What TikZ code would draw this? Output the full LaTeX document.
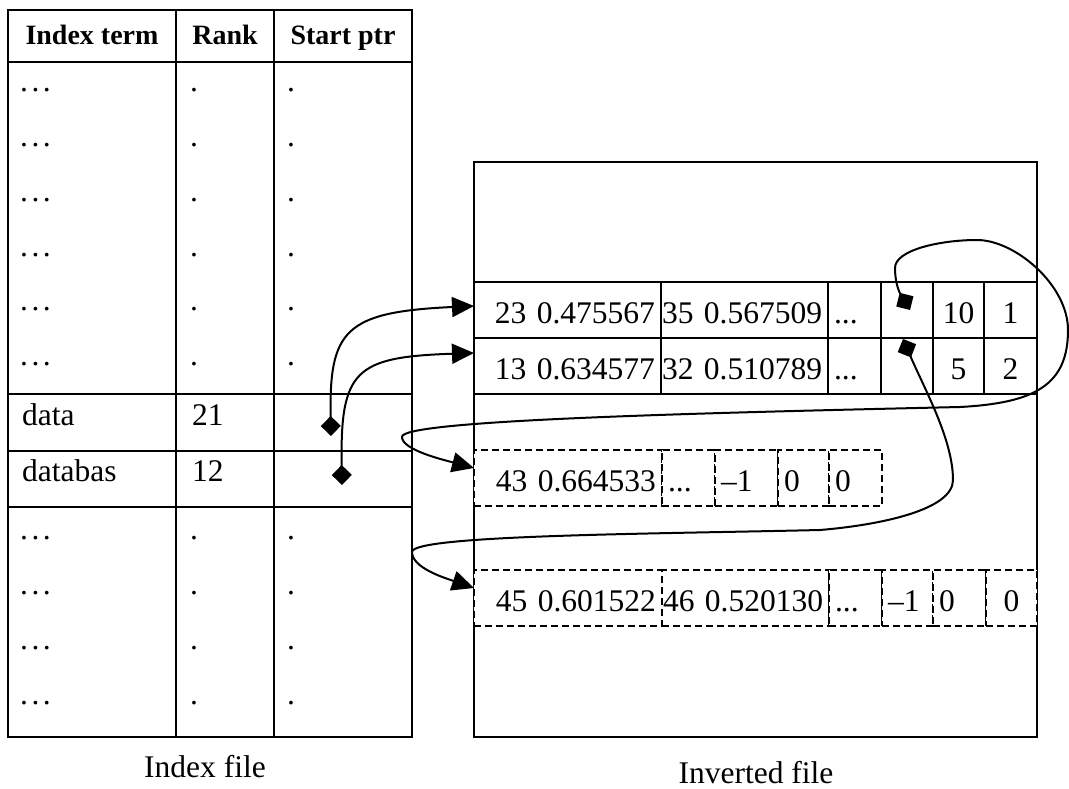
\documentclass[tikz,border=0pt]{standalone}
\usepackage{fontspec}
\setmainfont{Liberation Serif}
\usetikzlibrary{arrows.meta, positioning}

\begin{document}
\begin{tikzpicture}[
  x=1pt, y=-1pt,
  txt/.style={inner sep=0pt, font=\fontsize{31.5}{36}\selectfont},
  head/.style={inner sep=0pt, font=\fontsize{28}{32}\selectfont\bfseries},
  frame/.style={draw, inner sep=0pt, outer sep=0pt, anchor=north west},
  cell/.style={draw, line width=1.4pt, outer sep=0pt, inner xsep=6pt, inner ysep=0pt,
    minimum height=56pt, text height=26pt, text depth=0pt, text width=#1pt, align=left,
    font=\fontsize{31.5}{36}\selectfont},
  dcell/.style={cell=#1, fill=white, dash pattern=on 7pt off 4pt},
  ptr/.style={line width=2pt, {Diamond[length=20pt, width=20pt]}-{Triangle[length=22pt, width=20pt]}},
  node distance=0pt
]
\useasboundingbox (0,0) rectangle (1069,789);

% index file
\node[frame, line width=2.2pt, minimum width=404pt, minimum height=727pt] (idx) at (8,10) {};
\draw[line width=2.2pt] (176,10) -- (176,737) (274,10) -- (274,737);
\draw[line width=2.2pt] (8,62) -- (412,62) (8,394) -- (412,394)
  (8,451) -- (412,451) (8,507) -- (412,507);

\node[head, anchor=base] (h-term)  at (92,45)  {Index term};
\node[head, anchor=base] (h-rank)  at (225,45) {Rank};
\node[head, anchor=base] (h-start) at (343,45) {Start ptr};

\foreach \y [count=\i] in {92,147,201,256,310,365,539,594,649,704} {
  \node[txt, anchor=base west] (dt\i) at (20,\y)  {.\kern3.5pt.\kern3.5pt.};
  \node[txt, anchor=base west] (dr\i) at (190,\y) {.};
  \node[txt, anchor=base west] (dp\i) at (287,\y) {.};
}

\node[txt, anchor=base west] (t-data)    at (22,425)  {data};
\node[txt, anchor=base west] (r-data)    at (192,425) {21};
\node[txt, anchor=base west] (t-databas) at (22,481)  {databas};
\node[txt, anchor=base west] (r-databas) at (192,481) {12};

\node[txt, anchor=base] (lab-idx) at (205,777) {Index file};

% inverted file
\node[frame, line width=1.6pt, minimum width=563pt, minimum height=575pt] (inv) at (474,162) {};

\node[cell=175, align=right, anchor=north west] (p1a) at (474,282) {23~0.475567};
\node[cell=165, inner xsep=1pt, right=of p1a] (p1b) {35~0.567509};
\node[cell=41, right=of p1b] (p1c) {...};
\node[cell=40, right=of p1c] (p1d) {};
\node[cell=39, align=center, right=of p1d] (p1e) {10};
\node[cell=41, align=center, right=of p1e] (p1f) {1};

\node[cell=175, align=right, below=of p1a] (p2a) {13~0.634577};
\node[cell=165, inner xsep=1pt, right=of p2a] (p2b) {32~0.510789};
\node[cell=41, right=of p2b] (p2c) {...};
\node[cell=40, right=of p2c] (p2d) {};
\node[cell=39, align=center, right=of p2d] (p2e) {5};
\node[cell=41, align=center, right=of p2e] (p2f) {2};

\node[dcell=176, align=right, anchor=north west] (q1a) at (474,450) {43~0.664533};
\node[dcell=41, right=of q1a] (q1b) {...};
\node[dcell=51, right=of q1b] (q1c) {–1};
\node[dcell=39, right=of q1c] (q1d) {0};
\node[dcell=41, right=of q1d] (q1e) {0};

\node[dcell=176, align=right, anchor=north west] (q2a) at (474,570) {45~0.601522};
\node[dcell=165, inner xsep=1pt, right=of q2a] (q2b) {46~0.520130};
\node[dcell=41, right=of q2b] (q2c) {...};
\node[dcell=39, right=of q2c] (q2d) {–1};
\node[dcell=41, right=of q2d] (q2e) {0};
\node[dcell=39, align=center, right=of q2e] (q2f) {0};

\node[txt, anchor=base] (lab-inv) at (756,783) {Inverted file};

% pointers
\coordinate (ptr-data)    at (331,436);
\coordinate (ptr-databas) at (342,485);
\coordinate (ptr-next1)   at (910,310);
\coordinate (ptr-next2)   at (903,339);

\draw[ptr] (ptr-data) .. controls (329,330) and (345,312) .. ([yshift=4pt]p1a.west);
\draw[ptr] (ptr-databas) .. controls (340,370) and (355,357) .. ([yshift=13pt]p2a.west);
\draw[ptr] (ptr-next1) .. controls (898,290) and (895,280) .. (895,268)
  .. controls (895,250) and (940,240) .. (977,240)
  .. controls (1015,240) and (1068,285) .. (1068,330)
  .. controls (1068,385) and (1035,403) .. (960,407)
  .. controls (700,413) and (400,420) .. (402,437)
  .. controls (402,450) and (444,460) .. ([yshift=10pt]q1a.west);
\draw[ptr] (ptr-next2) .. controls (925,390) and (953,440) .. (953,480)
  .. controls (953,510) and (880,525) .. (820,530)
  .. controls (650,534) and (412,535) .. (412,552)
  .. controls (412,568) and (445,578) .. ([yshift=10pt]q2a.west);
\end{tikzpicture}
\end{document}
